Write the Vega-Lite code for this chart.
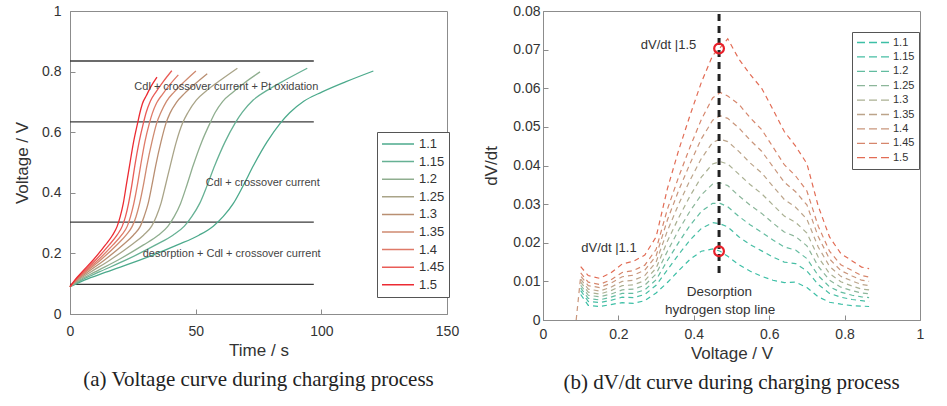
{
"$schema": "https://vega.github.io/schema/vega-lite/v6.json",
"background": "white",
"padding": {"left": 13, "top": 3, "right": 5, "bottom": 0},
"bounds": "flush",
"spacing": 96,
"config": {
  "font": "Liberation Sans",
  "view": {"stroke": "#8c8c8c", "strokeWidth": 1},
  "axis": {"domainColor": "#8c8c8c", "tickColor": "#8c8c8c", "tickSize": -5, "labelColor": "#333333", "titleColor": "#333333", "labelFontSize": 14, "titleFontSize": 17, "titleFontWeight": "normal", "grid": false, "labelFlush": false, "labelOverlap": false, "labelFont": "Liberation Sans", "titleFont": "Liberation Sans"},
  "title": {"font": "Liberation Serif", "fontSize": 21, "fontWeight": "normal", "color": "#222222", "orient": "bottom", "anchor": "middle"},
  "legend": {"title": null, "orient": "none", "strokeColor": "#555555", "fillColor": "white", "labelColor": "#333333", "labelFont": "Liberation Sans"}
},
"resolve": {"scale": {"color": "independent", "x": "independent", "y": "independent"}, "legend": {"color": "independent"}},
"datasets": {
"hl": [{"t": 0, "t1": 97, "v": 0.835}, {"t": 0, "t1": 97, "v": 0.634}, {"t": 0, "t1": 97, "v": 0.303}, {"t": 0, "t1": 97, "v": 0.098}],
"annA": [{"t": 62.2, "v": 0.749, "label": "Cdl + crossover current + Pt oxidation"}, {"t": 76.7, "v": 0.431, "label": "Cdl + crossover current"}, {"t": 64.3, "v": 0.197, "label": "desorption + Cdl + crossover current"}],
"vc": [
{"s":"1.1","t":0,"v":0.09},{"s":"1.1","t":5.7,"v":0.112},{"s":"1.1","t":14.25,"v":0.138},{"s":"1.1","t":28.5,"v":0.18},{"s":"1.1","t":42.75,"v":0.228},{"s":"1.1","t":51.3,"v":0.26},{"s":"1.1","t":57,"v":0.29},{"s":"1.1","t":61,"v":0.322},{"s":"1.1","t":65,"v":0.365},{"s":"1.1","t":69,"v":0.425},{"s":"1.1","t":73,"v":0.49},{"s":"1.1","t":78.4,"v":0.568},{"s":"1.1","t":83.7,"v":0.63},{"s":"1.1","t":87.4,"v":0.664},{"s":"1.1","t":93,"v":0.702},{"s":"1.1","t":100.35,"v":0.733},{"s":"1.1","t":109.6,"v":0.766},{"s":"1.1","t":120.7,"v":0.802},
{"s":"1.15","t":0,"v":0.09},{"s":"1.15","t":4.55,"v":0.112},{"s":"1.15","t":11.4,"v":0.138},{"s":"1.15","t":22.75,"v":0.18},{"s":"1.15","t":34.1,"v":0.228},{"s":"1.15","t":40.95,"v":0.26},{"s":"1.15","t":45.5,"v":0.29},{"s":"1.15","t":48.5,"v":0.322},{"s":"1.15","t":51.6,"v":0.365},{"s":"1.15","t":54.6,"v":0.425},{"s":"1.15","t":57.6,"v":0.49},{"s":"1.15","t":61.7,"v":0.568},{"s":"1.15","t":65.7,"v":0.63},{"s":"1.15","t":68.6,"v":0.666},{"s":"1.15","t":72.9,"v":0.706},{"s":"1.15","t":78.6,"v":0.739},{"s":"1.15","t":85.8,"v":0.773},{"s":"1.15","t":94.4,"v":0.811},
{"s":"1.2","t":0,"v":0.09},{"s":"1.2","t":3.9,"v":0.112},{"s":"1.2","t":9.75,"v":0.138},{"s":"1.2","t":19.5,"v":0.18},{"s":"1.2","t":29.25,"v":0.228},{"s":"1.2","t":35.1,"v":0.26},{"s":"1.2","t":39,"v":0.29},{"s":"1.2","t":41.5,"v":0.322},{"s":"1.2","t":44,"v":0.365},{"s":"1.2","t":46.5,"v":0.425},{"s":"1.2","t":49,"v":0.49},{"s":"1.2","t":52.4,"v":0.568},{"s":"1.2","t":55.7,"v":0.63},{"s":"1.2","t":57.7,"v":0.664},{"s":"1.2","t":60.7,"v":0.701},{"s":"1.2","t":64.7,"v":0.731},{"s":"1.2","t":69.6,"v":0.764},{"s":"1.2","t":75.6,"v":0.799},
{"s":"1.25","t":0,"v":0.09},{"s":"1.25","t":3.25,"v":0.112},{"s":"1.25","t":8.1,"v":0.138},{"s":"1.25","t":16.25,"v":0.18},{"s":"1.25","t":24.4,"v":0.228},{"s":"1.25","t":29.25,"v":0.26},{"s":"1.25","t":32.5,"v":0.29},{"s":"1.25","t":34.35,"v":0.322},{"s":"1.25","t":36.2,"v":0.365},{"s":"1.25","t":38,"v":0.425},{"s":"1.25","t":39.9,"v":0.49},{"s":"1.25","t":42.3,"v":0.568},{"s":"1.25","t":44.8,"v":0.63},{"s":"1.25","t":47,"v":0.666},{"s":"1.25","t":50.25,"v":0.706},{"s":"1.25","t":54.6,"v":0.739},{"s":"1.25","t":60.1,"v":0.773},{"s":"1.25","t":66.6,"v":0.811},
{"s":"1.3","t":0,"v":0.09},{"s":"1.3","t":2.8,"v":0.112},{"s":"1.3","t":7,"v":0.138},{"s":"1.3","t":14,"v":0.18},{"s":"1.3","t":21,"v":0.228},{"s":"1.3","t":25.2,"v":0.26},{"s":"1.3","t":28,"v":0.29},{"s":"1.3","t":29.5,"v":0.322},{"s":"1.3","t":31.1,"v":0.365},{"s":"1.3","t":32.6,"v":0.425},{"s":"1.3","t":34.1,"v":0.49},{"s":"1.3","t":36.2,"v":0.568},{"s":"1.3","t":38.2,"v":0.63},{"s":"1.3","t":39.8,"v":0.663},{"s":"1.3","t":42.3,"v":0.698},{"s":"1.3","t":45.6,"v":0.728},{"s":"1.3","t":49.7,"v":0.759},{"s":"1.3","t":54.6,"v":0.793},
{"s":"1.35","t":0,"v":0.09},{"s":"1.35","t":2.5,"v":0.112},{"s":"1.35","t":6.2,"v":0.138},{"s":"1.35","t":12.4,"v":0.18},{"s":"1.35","t":18.6,"v":0.228},{"s":"1.35","t":22.3,"v":0.26},{"s":"1.35","t":24.8,"v":0.29},{"s":"1.35","t":26.3,"v":0.322},{"s":"1.35","t":27.7,"v":0.365},{"s":"1.35","t":29.2,"v":0.425},{"s":"1.35","t":30.6,"v":0.49},{"s":"1.35","t":32.6,"v":0.568},{"s":"1.35","t":34.5,"v":0.63},{"s":"1.35","t":36.1,"v":0.664},{"s":"1.35","t":38.4,"v":0.702},{"s":"1.35","t":41.5,"v":0.733},{"s":"1.35","t":45.4,"v":0.766},{"s":"1.35","t":50.1,"v":0.802},
{"s":"1.4","t":0,"v":0.09},{"s":"1.4","t":2.3,"v":0.112},{"s":"1.4","t":5.7,"v":0.138},{"s":"1.4","t":11.4,"v":0.18},{"s":"1.4","t":17.1,"v":0.228},{"s":"1.4","t":20.5,"v":0.26},{"s":"1.4","t":22.8,"v":0.29},{"s":"1.4","t":24.1,"v":0.322},{"s":"1.4","t":25.4,"v":0.365},{"s":"1.4","t":26.8,"v":0.425},{"s":"1.4","t":28.1,"v":0.49},{"s":"1.4","t":29.8,"v":0.568},{"s":"1.4","t":31.6,"v":0.63},{"s":"1.4","t":32.75,"v":0.662},{"s":"1.4","t":34.5,"v":0.697},{"s":"1.4","t":36.8,"v":0.725},{"s":"1.4","t":39.65,"v":0.756},{"s":"1.4","t":43.1,"v":0.789},
{"s":"1.45","t":0,"v":0.09},{"s":"1.45","t":2.1,"v":0.112},{"s":"1.45","t":5.2,"v":0.138},{"s":"1.45","t":10.4,"v":0.18},{"s":"1.45","t":15.6,"v":0.228},{"s":"1.45","t":18.7,"v":0.26},{"s":"1.45","t":20.8,"v":0.29},{"s":"1.45","t":22.1,"v":0.322},{"s":"1.45","t":23.3,"v":0.365},{"s":"1.45","t":24.6,"v":0.425},{"s":"1.45","t":25.8,"v":0.49},{"s":"1.45","t":27.5,"v":0.568},{"s":"1.45","t":29.2,"v":0.63},{"s":"1.45","t":30.3,"v":0.665},{"s":"1.45","t":32,"v":0.703},{"s":"1.45","t":34.3,"v":0.734},{"s":"1.45","t":37.1,"v":0.767},{"s":"1.45","t":40.5,"v":0.803},
{"s":"1.5","t":0,"v":0.09},{"s":"1.5","t":1.9,"v":0.112},{"s":"1.5","t":4.7,"v":0.138},{"s":"1.5","t":9.4,"v":0.18},{"s":"1.5","t":14.1,"v":0.228},{"s":"1.5","t":16.9,"v":0.26},{"s":"1.5","t":18.8,"v":0.29},{"s":"1.5","t":20,"v":0.322},{"s":"1.5","t":21.2,"v":0.365},{"s":"1.5","t":22.4,"v":0.425},{"s":"1.5","t":23.7,"v":0.49},{"s":"1.5","t":25.3,"v":0.568},{"s":"1.5","t":26.9,"v":0.63},{"s":"1.5","t":27.7,"v":0.66},{"s":"1.5","t":28.8,"v":0.694},{"s":"1.5","t":30.4,"v":0.721},{"s":"1.5","t":32.3,"v":0.752},{"s":"1.5","t":34.6,"v":0.782}
],
"dv": [
{"s":"1.1","u":0.1,"d":0.0066},{"s":"1.1","u":0.12,"d":0.0038},{"s":"1.1","u":0.15,"d":0.0035},{"s":"1.1","u":0.18,"d":0.004},{"s":"1.1","u":0.21,"d":0.0045},{"s":"1.1","u":0.24,"d":0.0043},{"s":"1.1","u":0.27,"d":0.005},{"s":"1.1","u":0.3,"d":0.007},{"s":"1.1","u":0.33,"d":0.0097},{"s":"1.1","u":0.36,"d":0.0128},{"s":"1.1","u":0.39,"d":0.0157},{"s":"1.1","u":0.42,"d":0.0178},{"s":"1.1","u":0.45,"d":0.0184},{"s":"1.1","u":0.47,"d":0.0178},{"s":"1.1","u":0.49,"d":0.0165},{"s":"1.1","u":0.52,"d":0.0143},{"s":"1.1","u":0.55,"d":0.0126},{"s":"1.1","u":0.58,"d":0.0113},{"s":"1.1","u":0.61,"d":0.0103},{"s":"1.1","u":0.64,"d":0.0097},{"s":"1.1","u":0.67,"d":0.0098},{"s":"1.1","u":0.7,"d":0.0084},{"s":"1.1","u":0.73,"d":0.006},{"s":"1.1","u":0.76,"d":0.0046},{"s":"1.1","u":0.79,"d":0.0041},{"s":"1.1","u":0.82,"d":0.0037},{"s":"1.1","u":0.845,"d":0.0036},{"s":"1.1","u":0.865,"d":0.0035},
{"s":"1.15","u":0.1,"d":0.0076},{"s":"1.15","u":0.12,"d":0.0048},{"s":"1.15","u":0.15,"d":0.0045},{"s":"1.15","u":0.18,"d":0.0051},{"s":"1.15","u":0.21,"d":0.0059},{"s":"1.15","u":0.24,"d":0.0058},{"s":"1.15","u":0.27,"d":0.0066},{"s":"1.15","u":0.3,"d":0.009},{"s":"1.15","u":0.33,"d":0.013},{"s":"1.15","u":0.36,"d":0.017},{"s":"1.15","u":0.39,"d":0.0207},{"s":"1.15","u":0.42,"d":0.0237},{"s":"1.15","u":0.45,"d":0.0252},{"s":"1.15","u":0.47,"d":0.0249},{"s":"1.15","u":0.49,"d":0.0241},{"s":"1.15","u":0.52,"d":0.0215},{"s":"1.15","u":0.55,"d":0.0195},{"s":"1.15","u":0.58,"d":0.0179},{"s":"1.15","u":0.61,"d":0.0163},{"s":"1.15","u":0.64,"d":0.015},{"s":"1.15","u":0.67,"d":0.0146},{"s":"1.15","u":0.7,"d":0.0127},{"s":"1.15","u":0.73,"d":0.0092},{"s":"1.15","u":0.76,"d":0.0069},{"s":"1.15","u":0.79,"d":0.0059},{"s":"1.15","u":0.82,"d":0.0053},{"s":"1.15","u":0.845,"d":0.005},{"s":"1.15","u":0.865,"d":0.0048},
{"s":"1.2","u":0.1,"d":0.0083},{"s":"1.2","u":0.12,"d":0.0056},{"s":"1.2","u":0.15,"d":0.0052},{"s":"1.2","u":0.18,"d":0.0059},{"s":"1.2","u":0.21,"d":0.0069},{"s":"1.2","u":0.24,"d":0.0069},{"s":"1.2","u":0.27,"d":0.0078},{"s":"1.2","u":0.3,"d":0.0104},{"s":"1.2","u":0.33,"d":0.0154},{"s":"1.2","u":0.36,"d":0.0201},{"s":"1.2","u":0.39,"d":0.0245},{"s":"1.2","u":0.42,"d":0.0281},{"s":"1.2","u":0.45,"d":0.0302},{"s":"1.2","u":0.47,"d":0.0302},{"s":"1.2","u":0.49,"d":0.0293},{"s":"1.2","u":0.52,"d":0.0268},{"s":"1.2","u":0.55,"d":0.0246},{"s":"1.2","u":0.58,"d":0.0227},{"s":"1.2","u":0.61,"d":0.0207},{"s":"1.2","u":0.64,"d":0.0189},{"s":"1.2","u":0.67,"d":0.0181},{"s":"1.2","u":0.7,"d":0.0159},{"s":"1.2","u":0.73,"d":0.0115},{"s":"1.2","u":0.76,"d":0.0086},{"s":"1.2","u":0.79,"d":0.0072},{"s":"1.2","u":0.82,"d":0.0064},{"s":"1.2","u":0.845,"d":0.006},{"s":"1.2","u":0.865,"d":0.0058},
{"s":"1.25","u":0.1,"d":0.009},{"s":"1.25","u":0.12,"d":0.0064},{"s":"1.25","u":0.15,"d":0.006},{"s":"1.25","u":0.18,"d":0.0067},{"s":"1.25","u":0.21,"d":0.0078},{"s":"1.25","u":0.24,"d":0.008},{"s":"1.25","u":0.27,"d":0.009},{"s":"1.25","u":0.3,"d":0.0119},{"s":"1.25","u":0.33,"d":0.0178},{"s":"1.25","u":0.36,"d":0.0233},{"s":"1.25","u":0.39,"d":0.0282},{"s":"1.25","u":0.42,"d":0.0324},{"s":"1.25","u":0.45,"d":0.0352},{"s":"1.25","u":0.47,"d":0.0355},{"s":"1.25","u":0.49,"d":0.0348},{"s":"1.25","u":0.52,"d":0.0321},{"s":"1.25","u":0.55,"d":0.0297},{"s":"1.25","u":0.58,"d":0.0276},{"s":"1.25","u":0.61,"d":0.0251},{"s":"1.25","u":0.64,"d":0.0228},{"s":"1.25","u":0.67,"d":0.0216},{"s":"1.25","u":0.7,"d":0.0192},{"s":"1.25","u":0.73,"d":0.0139},{"s":"1.25","u":0.76,"d":0.0103},{"s":"1.25","u":0.79,"d":0.0085},{"s":"1.25","u":0.82,"d":0.0076},{"s":"1.25","u":0.845,"d":0.007},{"s":"1.25","u":0.865,"d":0.0068},
{"s":"1.3","u":0.1,"d":0.0098},{"s":"1.3","u":0.12,"d":0.0072},{"s":"1.3","u":0.15,"d":0.0067},{"s":"1.3","u":0.18,"d":0.0076},{"s":"1.3","u":0.21,"d":0.0089},{"s":"1.3","u":0.24,"d":0.0091},{"s":"1.3","u":0.27,"d":0.0102},{"s":"1.3","u":0.3,"d":0.0134},{"s":"1.3","u":0.33,"d":0.0204},{"s":"1.3","u":0.36,"d":0.0265},{"s":"1.3","u":0.39,"d":0.0321},{"s":"1.3","u":0.42,"d":0.037},{"s":"1.3","u":0.45,"d":0.0404},{"s":"1.3","u":0.47,"d":0.041},{"s":"1.3","u":0.49,"d":0.0404},{"s":"1.3","u":0.52,"d":0.0377},{"s":"1.3","u":0.55,"d":0.035},{"s":"1.3","u":0.58,"d":0.0327},{"s":"1.3","u":0.61,"d":0.0298},{"s":"1.3","u":0.64,"d":0.0269},{"s":"1.3","u":0.67,"d":0.0253},{"s":"1.3","u":0.7,"d":0.0225},{"s":"1.3","u":0.73,"d":0.0163},{"s":"1.3","u":0.76,"d":0.012},{"s":"1.3","u":0.79,"d":0.0099},{"s":"1.3","u":0.82,"d":0.0088},{"s":"1.3","u":0.845,"d":0.008},{"s":"1.3","u":0.865,"d":0.0078},
{"s":"1.35","u":0.1,"d":0.0106},{"s":"1.35","u":0.12,"d":0.008},{"s":"1.35","u":0.15,"d":0.0075},{"s":"1.35","u":0.18,"d":0.0085},{"s":"1.35","u":0.21,"d":0.01},{"s":"1.35","u":0.24,"d":0.0103},{"s":"1.35","u":0.27,"d":0.0115},{"s":"1.35","u":0.3,"d":0.015},{"s":"1.35","u":0.33,"d":0.0231},{"s":"1.35","u":0.36,"d":0.03},{"s":"1.35","u":0.39,"d":0.0362},{"s":"1.35","u":0.42,"d":0.0418},{"s":"1.35","u":0.45,"d":0.046},{"s":"1.35","u":0.47,"d":0.0468},{"s":"1.35","u":0.49,"d":0.0462},{"s":"1.35","u":0.52,"d":0.0436},{"s":"1.35","u":0.55,"d":0.0406},{"s":"1.35","u":0.58,"d":0.0381},{"s":"1.35","u":0.61,"d":0.0346},{"s":"1.35","u":0.64,"d":0.0312},{"s":"1.35","u":0.67,"d":0.0292},{"s":"1.35","u":0.7,"d":0.0261},{"s":"1.35","u":0.73,"d":0.0189},{"s":"1.35","u":0.76,"d":0.0139},{"s":"1.35","u":0.79,"d":0.0113},{"s":"1.35","u":0.82,"d":0.0101},{"s":"1.35","u":0.845,"d":0.0092},{"s":"1.35","u":0.865,"d":0.0089},
{"s":"1.4","u":0.088,"d":0.0},{"s":"1.4","u":0.1,"d":0.0114},{"s":"1.4","u":0.12,"d":0.0089},{"s":"1.4","u":0.15,"d":0.0084},{"s":"1.4","u":0.18,"d":0.0095},{"s":"1.4","u":0.21,"d":0.0112},{"s":"1.4","u":0.24,"d":0.0116},{"s":"1.4","u":0.27,"d":0.0129},{"s":"1.4","u":0.3,"d":0.0166},{"s":"1.4","u":0.33,"d":0.0259},{"s":"1.4","u":0.36,"d":0.0336},{"s":"1.4","u":0.39,"d":0.0405},{"s":"1.4","u":0.42,"d":0.0469},{"s":"1.4","u":0.45,"d":0.0517},{"s":"1.4","u":0.47,"d":0.0529},{"s":"1.4","u":0.49,"d":0.0522},{"s":"1.4","u":0.52,"d":0.0497},{"s":"1.4","u":0.55,"d":0.0465},{"s":"1.4","u":0.58,"d":0.0437},{"s":"1.4","u":0.61,"d":0.0397},{"s":"1.4","u":0.64,"d":0.0357},{"s":"1.4","u":0.67,"d":0.0332},{"s":"1.4","u":0.7,"d":0.0298},{"s":"1.4","u":0.73,"d":0.0216},{"s":"1.4","u":0.76,"d":0.0158},{"s":"1.4","u":0.79,"d":0.0128},{"s":"1.4","u":0.82,"d":0.0114},{"s":"1.4","u":0.845,"d":0.0103},{"s":"1.4","u":0.865,"d":0.01},
{"s":"1.45","u":0.1,"d":0.0122},{"s":"1.45","u":0.12,"d":0.0098},{"s":"1.45","u":0.15,"d":0.0092},{"s":"1.45","u":0.18,"d":0.0104},{"s":"1.45","u":0.21,"d":0.0123},{"s":"1.45","u":0.24,"d":0.0128},{"s":"1.45","u":0.27,"d":0.0142},{"s":"1.45","u":0.3,"d":0.0183},{"s":"1.45","u":0.33,"d":0.0287},{"s":"1.45","u":0.36,"d":0.0371},{"s":"1.45","u":0.39,"d":0.0448},{"s":"1.45","u":0.42,"d":0.0519},{"s":"1.45","u":0.45,"d":0.0575},{"s":"1.45","u":0.47,"d":0.0589},{"s":"1.45","u":0.49,"d":0.058},{"s":"1.45","u":0.52,"d":0.0558},{"s":"1.45","u":0.55,"d":0.0523},{"s":"1.45","u":0.58,"d":0.0493},{"s":"1.45","u":0.61,"d":0.0448},{"s":"1.45","u":0.64,"d":0.0402},{"s":"1.45","u":0.67,"d":0.0373},{"s":"1.45","u":0.7,"d":0.0334},{"s":"1.45","u":0.73,"d":0.0243},{"s":"1.45","u":0.76,"d":0.0178},{"s":"1.45","u":0.79,"d":0.0143},{"s":"1.45","u":0.82,"d":0.0128},{"s":"1.45","u":0.845,"d":0.0115},{"s":"1.45","u":0.865,"d":0.0111},
{"s":"1.5","u":0.1,"d":0.0138},{"s":"1.5","u":0.12,"d":0.0115},{"s":"1.5","u":0.15,"d":0.0108},{"s":"1.5","u":0.18,"d":0.0122},{"s":"1.5","u":0.21,"d":0.0145},{"s":"1.5","u":0.24,"d":0.0152},{"s":"1.5","u":0.27,"d":0.0168},{"s":"1.5","u":0.3,"d":0.0215},{"s":"1.5","u":0.33,"d":0.034},{"s":"1.5","u":0.36,"d":0.044},{"s":"1.5","u":0.39,"d":0.053},{"s":"1.5","u":0.42,"d":0.0615},{"s":"1.5","u":0.45,"d":0.0685},{"s":"1.5","u":0.47,"d":0.0705},{"s":"1.5","u":0.49,"d":0.0728},{"s":"1.5","u":0.52,"d":0.0675},{"s":"1.5","u":0.55,"d":0.0635},{"s":"1.5","u":0.58,"d":0.06},{"s":"1.5","u":0.61,"d":0.0545},{"s":"1.5","u":0.64,"d":0.0488},{"s":"1.5","u":0.67,"d":0.045},{"s":"1.5","u":0.7,"d":0.0405},{"s":"1.5","u":0.73,"d":0.0295},{"s":"1.5","u":0.76,"d":0.0215},{"s":"1.5","u":0.79,"d":0.0172},{"s":"1.5","u":0.82,"d":0.0153},{"s":"1.5","u":0.845,"d":0.0137},{"s":"1.5","u":0.865,"d":0.0133}
],
"stop": [{"u": 0.467, "d": 0.0122, "d2": 0.0795}],
"circ": [{"u": 0.467, "d": 0.0703}, {"u": 0.467, "d": 0.0178}],
"annB": [{"u": 0.333, "d": 0.0711, "label": "dV/dt |1.5", "sz": "a"}, {"u": 0.175, "d": 0.0187, "label": "dV/dt |1.1", "sz": "a"}, {"u": 0.468, "d": 0.0073, "label": "Desorption", "sz": "b"}, {"u": 0.47, "d": 0.0026, "label": "hydrogen stop line", "sz": "b"}]
},
"hconcat": [
{
  "width": 377, "height": 303,
  "title": {"text": "(a) Voltage curve during charging process", "offset": 11},
  "encoding": {
    "x": {"field": "t", "type": "quantitative", "title": "Time / s", "scale": {"domain": [0, 150], "nice": false}, "axis": {"values": [0, 50, 100, 150], "labelPadding": 15, "titlePadding": 4, "labelOverlap": false}},
    "y": {"field": "v", "type": "quantitative", "title": "Voltage / V", "scale": {"domain": [0, 1], "nice": false}, "axis": {"values": [0, 0.2, 0.4, 0.6, 0.8, 1], "format": "~g", "labelPadding": 14, "titlePadding": 10, "labelOverlap": false}}
  },
  "layer": [
    {"data": {"name": "hl"}, "mark": {"type": "rule", "color": "#3a3a3a", "strokeWidth": 1.3},
     "encoding": {"x2": {"field": "t1"}}},
    {"data": {"name": "vc"}, "mark": {"type": "line", "strokeWidth": 1.3, "interpolate": "monotone"},
     "encoding": {
       "color": {"field": "s", "type": "nominal",
         "scale": {"domain": ["1.1","1.15","1.2","1.25","1.3","1.35","1.4","1.45","1.5"], "range": ["#4caa8c","#66b194","#8fae8f","#a9a488","#b98f72","#cf8a70","#df7a68","#e95c57","#ec2b33"]},
         "legend": {"legendX": 307, "legendY": 121, "symbolType": "stroke", "symbolSize": 1024, "symbolStrokeWidth": 1.5, "clipHeight": 16, "rowPadding": 1.6, "labelFontSize": 13, "labelOffset": 4, "padding": 4}}
     }},
    {"data": {"name": "annA"}, "mark": {"type": "text", "fontSize": 11, "color": "#444444"},
     "encoding": {"text": {"field": "label"}}}
  ]
},
{
  "width": 377, "height": 309,
  "title": {"text": "(b) dV/dt curve during charging process", "offset": 11},
  "encoding": {
    "x": {"field": "u", "type": "quantitative", "title": "Voltage / V", "scale": {"domain": [0, 1], "nice": false}, "axis": {"values": [0, 0.2, 0.4, 0.6, 0.8, 1], "format": "~g", "labelPadding": 12, "titlePadding": 4, "labelOverlap": false}},
    "y": {"field": "d", "type": "quantitative", "title": "dV/dt", "scale": {"domain": [0, 0.08], "nice": false}, "axis": {"values": [0, 0.01, 0.02, 0.03, 0.04, 0.05, 0.06, 0.07, 0.08], "tickCount": 9, "format": "~g", "labelPadding": 8, "titlePadding": 12, "labelOverlap": false}}
  },
  "layer": [
    {"data": {"name": "dv"}, "mark": {"type": "line", "strokeWidth": 1.2, "strokeDash": [5, 4]},
     "encoding": {
       "color": {"field": "s", "type": "nominal",
         "scale": {"domain": ["1.1","1.15","1.2","1.25","1.3","1.35","1.4","1.45","1.5"], "range": ["#3dbfa6","#47bea4","#62bca0","#8cb69a","#aab092","#bca48a","#c9967c","#d6866c","#e26c55"]},
         "legend": {"legendX": 309, "legendY": 21, "symbolType": "stroke", "symbolSize": 1089, "symbolStrokeWidth": 1.3, "symbolDash": [8, 4], "clipHeight": 13, "rowPadding": 1.4, "labelFontSize": 11, "labelOffset": 2, "padding": 4}}
     }},
    {"data": {"name": "stop"}, "mark": {"type": "rule", "color": "#222222", "strokeWidth": 3, "strokeDash": [7, 5]},
     "encoding": {"y2": {"field": "d2"}}},
    {"data": {"name": "circ"}, "mark": {"type": "point", "shape": "circle", "filled": false, "color": "#e8202a", "strokeWidth": 2.2, "size": 95, "opacity": 1}},
    {"data": {"name": "annB"}, "mark": {"type": "text", "color": "#333333"},
     "encoding": {
       "text": {"field": "label"},
       "size": {"field": "sz", "type": "nominal", "scale": {"domain": ["a", "b"], "range": [13, 13.5]}, "legend": null}
     }}
  ]
}
]
}
